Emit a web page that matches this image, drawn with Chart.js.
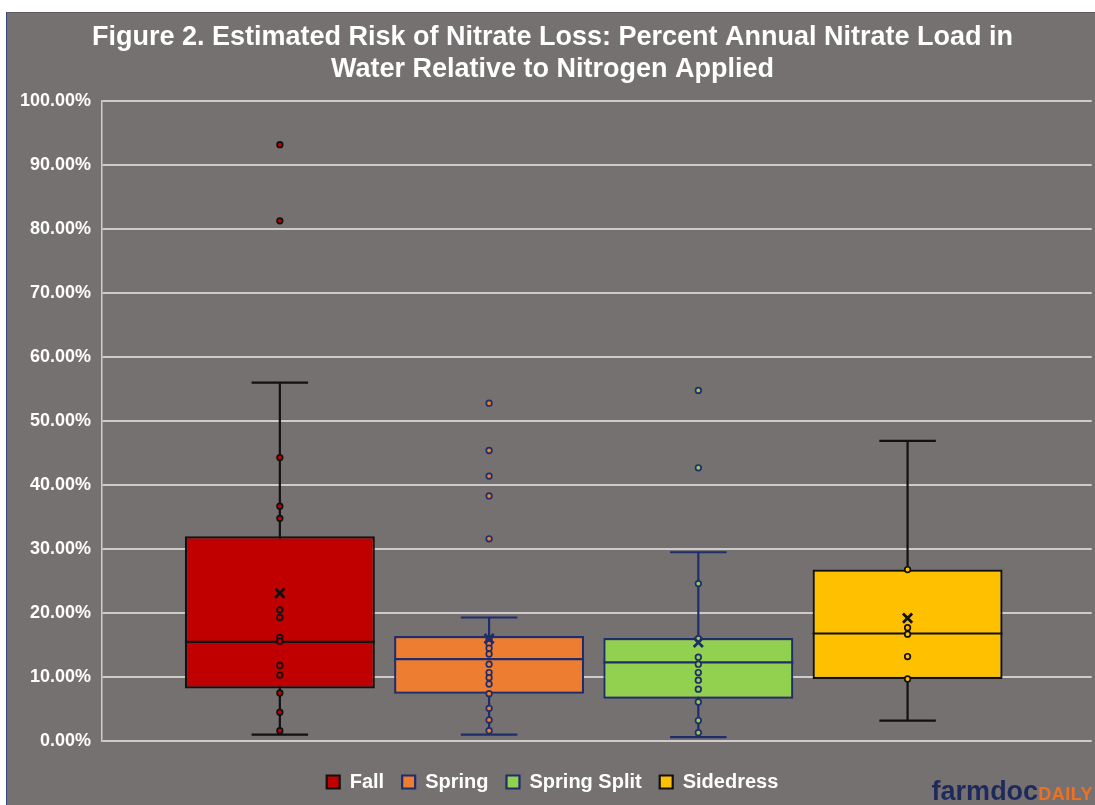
<!DOCTYPE html>
<html>
<head>
<meta charset="utf-8">
<title>Figure 2</title>
<script src="https://cdn.jsdelivr.net/npm/chart.js@4.4.0/dist/chart.umd.min.js"></script>
<style>
  html, body { margin: 0; padding: 0; background: #fff; overflow: hidden; }
  #frame {
    position: absolute; left: 6px; top: 12px; width: 1089px; height: 793px;
    background: #767171; overflow: hidden; box-sizing: border-box;
    border-left: 1px solid #34457e; border-top: 1px solid #5e5a5a;
  }
  #wrap { position: absolute; left: 5px; top: -1px; width: 1089px; height: 793px; }
  #logo {
    position: absolute; right: 2px; top: 765px; line-height: 27px;
    font-family: 'Liberation Sans', Arial, sans-serif; font-weight: bold; white-space: nowrap;
  }
  #logo .farm { color: #1f2a5c; font-size: 27px; }
  #logo .daily { color: #f07020; font-size: 18px; letter-spacing: 0.5px; }
</style>
</head>
<body>
<div id="frame">
  <div id="wrap"><canvas id="boxChart" width="1089" height="793"></canvas></div>
  <div id="logo"><span class="farm">farmdoc</span><span class="daily">DAILY</span></div>
</div>
<script>
// values, in percent
var categories = ['Fall', 'Spring', 'Spring Split', 'Sidedress'];
var minValues = [1.0, 1.0, 0.6, 3.2];
var q1Values = [8.2, 7.4, 6.6, 9.7];
var medianValues = [15.5, 12.8, 12.3, 16.8];
var q3Values = [32.0, 16.4, 16.1, 26.8];
var maxValues = [56.0, 19.3, 29.5, 46.9];
var meanValues = [23.1, 16.0, 15.4, 19.2];

var fallPoints = [93.2, 81.3, 44.3, 36.7, 34.8, 20.5, 19.3, 16.2, 15.6, 11.8, 10.3, 7.5, 4.5, 1.6];
var springPoints = [52.8, 45.4, 41.4, 38.3, 31.6, 15.9, 15.2, 14.5, 13.6, 12.0, 10.7, 9.9, 8.9, 7.4, 5.1, 3.3, 1.6];
var springSplitPoints = [54.8, 42.7, 24.6, 16.0, 13.1, 12.0, 10.7, 9.5, 8.1, 6.1, 3.2, 1.3];
var sidedressPoints = [26.8, 17.7, 16.7, 13.2, 9.7];

var yTickValues = [0, 10, 20, 30, 40, 50, 60, 70, 80, 90, 100];

var pointLists = [fallPoints, springPoints, springSplitPoints, sidedressPoints];
var fillColors = ['#c00000', '#ed7d31', '#92d050', '#ffc000'];
var edgeColors = ['#111111', '#1f2d6b', '#1f2d6b', '#111111'];
var capWidth = 0.27;
var fontFamily = "'Liberation Sans', Arial, sans-serif";

var datasets = [];
categories.forEach(function (name, i) {
    datasets.push({
        type: 'bar',
        label: name,
        data: [{ x: i, y: [q1Values[i], q3Values[i]] }],
        backgroundColor: fillColors[i],
        borderColor: edgeColors[i],
        borderWidth: 2.2,
        borderSkipped: false,
        grouped: false,
        categoryPercentage: 1,
        barPercentage: 0.908,
        order: 3
    });
});
categories.forEach(function (name, i) {
    datasets.push({
        type: 'scatter',
        label: name + ' points',
        data: pointLists[i].map(function (v) { return { x: i, y: v }; }),
        pointRadius: 2.8,
        pointBorderWidth: 1.7,
        pointBackgroundColor: fillColors[i],
        pointBorderColor: edgeColors[i],
        order: 2
    });
    datasets.push({
        type: 'scatter',
        label: name + ' mean',
        data: [{ x: i, y: meanValues[i] }],
        pointStyle: 'crossRot',
        pointRadius: 6.5,
        pointBorderWidth: 2.8,
        pointBorderColor: edgeColors[i],
        order: 1
    });
});

// whiskers and median lines
var boxPlotParts = {
    id: 'boxPlotParts',
    beforeDatasetsDraw: function (chart) {
        var ctx = chart.ctx, x = chart.scales.x, y = chart.scales.y;
        ctx.save();
        ctx.lineWidth = 2.2;
        categories.forEach(function (c, i) {
            var cx = x.getPixelForValue(i);
            var half = x.getPixelForValue(i + capWidth / 2) - cx;
            ctx.strokeStyle = edgeColors[i];
            ctx.beginPath();
            ctx.moveTo(cx, y.getPixelForValue(minValues[i]));
            ctx.lineTo(cx, y.getPixelForValue(maxValues[i]));
            [minValues[i], maxValues[i]].forEach(function (v) {
                var py = y.getPixelForValue(v);
                ctx.moveTo(cx - half, py);
                ctx.lineTo(cx + half, py);
            });
            ctx.stroke();
        });
        ctx.restore();
    },
    afterDatasetDraw: function (chart, args) {
        if (args.meta.type !== 'bar') return;
        var i = args.index;
        var el = args.meta.data[0];
        var py = chart.scales.y.getPixelForValue(medianValues[i]);
        var ctx = chart.ctx;
        ctx.save();
        ctx.lineWidth = 2.2;
        ctx.strokeStyle = edgeColors[i];
        ctx.beginPath();
        ctx.moveTo(el.x - el.width / 2, py);
        ctx.lineTo(el.x + el.width / 2, py);
        ctx.stroke();
        ctx.restore();
    }
};

document.addEventListener("DOMContentLoaded", function () {
    var ctx = document.getElementById('boxChart').getContext('2d');
    var boxChart = new Chart(ctx, {
        type: 'bar',
        data: { datasets: datasets },
        plugins: [boxPlotParts],
        options: {
            responsive: false,
            animation: false,
            events: [],
            layout: { padding: { top: 0, left: 0, right: 8, bottom: 3 } },
            scales: {
                x: {
                    type: 'linear',
                    offset: false,
                    min: -0.85,
                    max: 3.88,
                    afterBuildTicks: function (scale) {
                        scale.ticks = categories.map(function (c, i) { return { value: i }; });
                    },
                    afterFit: function (scale) { scale.height = 13; },
                    ticks: { display: false },
                    grid: { display: false },
                    border: { display: false }
                },
                y: {
                    min: 0,
                    max: 100,
                    afterBuildTicks: function (scale) {
                        scale.ticks = yTickValues.map(function (v) { return { value: v }; });
                    },
                    afterFit: function (scale) { scale.width = 90; },
                    ticks: {
                        color: '#ffffff',
                        padding: 11,
                        font: { family: fontFamily, size: 18, weight: 'bold' },
                        callback: function (v) { return v.toFixed(2) + '%'; }
                    },
                    grid: { color: '#cfcbcb', lineWidth: 2, drawTicks: false },
                    border: { display: true, color: '#cfcbcb', width: 1.5 }
                }
            },
            plugins: {
                title: {
                    display: true,
                    text: ['Figure 2. Estimated Risk of Nitrate Loss: Percent Annual Nitrate Load in',
                           'Water Relative to Nitrogen Applied'],
                    color: '#ffffff',
                    font: { family: fontFamily, size: 27, weight: 'bold', lineHeight: 1.17 },
                    padding: { top: 10, bottom: 16 }
                },
                legend: {
                    position: 'bottom',
                    labels: {
                        color: '#ffffff',
                        boxWidth: 13,
                        boxHeight: 13,
                        padding: 18,
                        font: { family: fontFamily, size: 20, weight: 'bold' },
                        filter: function (item) { return item.datasetIndex < categories.length; }
                    }
                },
                tooltip: { enabled: false }
            }
        }
    });
});
</script>
</body>
</html>
